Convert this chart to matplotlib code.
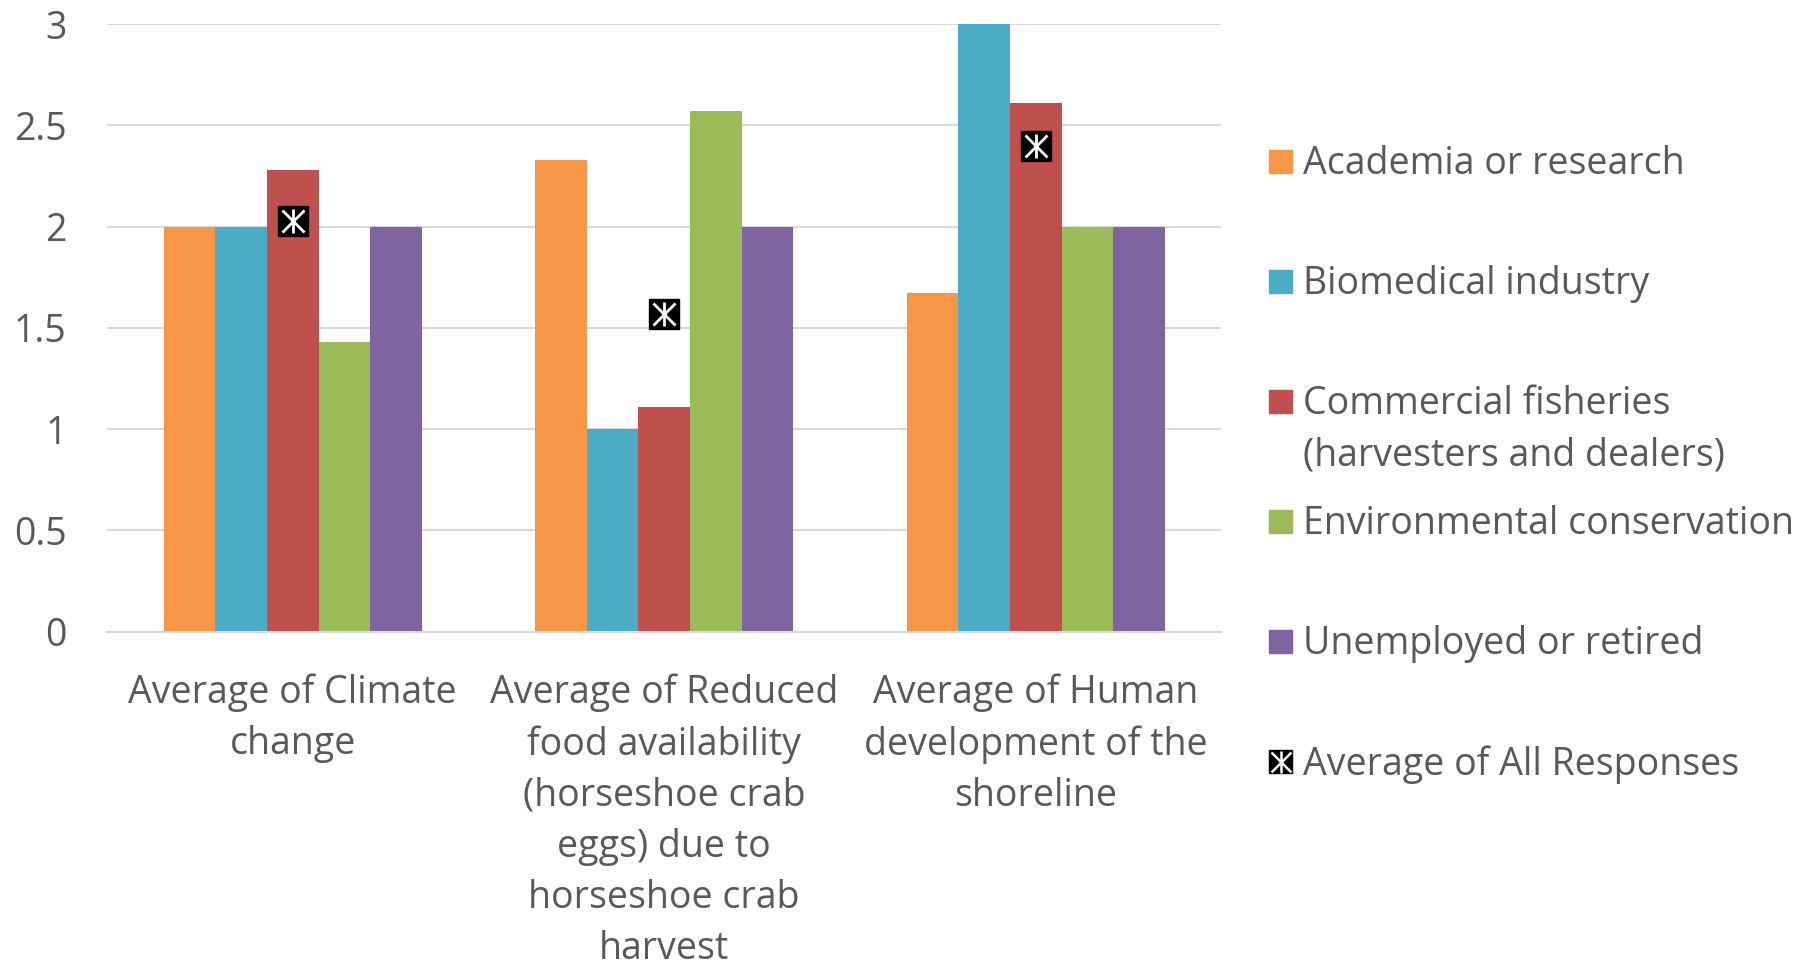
import numpy as np
import matplotlib.pyplot as plt
from matplotlib.patches import Rectangle

# data
categories = ["Average of Climate\nchange",
              "Average of Reduced\nfood availability\n(horseshoe crab\neggs) due to\nhorseshoe crab\nharvest",
              "Average of Human\ndevelopment of the\nshoreline"]
series_names = ["Academia or research", "Biomedical industry",
                "Commercial fisheries\n(harvesters and dealers)",
                "Environmental conservation", "Unemployed or retired"]
academia = [2.0, 2.33, 1.67]
biomedical = [2.0, 1.0, 3.0]
fisheries = [2.28, 1.11, 2.61]
environmental = [1.43, 2.57, 2.0]
unemployed = [2.0, 2.0, 2.0]
all_responses = [2.03, 1.57, 2.40]
colors = ["#F79646", "#4BACC6", "#C0504D", "#9BBB59", "#8064A2"]

series = [academia, biomedical, fisheries, environmental, unemployed]

plt.rcParams['font.family'] = ['Open Sans', 'DejaVu Sans']
txt_color = "#595959"
fs = 27

fig = plt.figure(figsize=(18.04, 9.63), dpi=100)
ax = fig.add_axes([0.0593, 0.344, 0.6178, 0.631])

x = np.arange(len(categories))
w = 0.139
for i, vals in enumerate(series):
    ax.bar(x + (i - 2) * w, vals, width=w, color=colors[i], zorder=2)

# average marker: black square with white asterisk
ax.plot(x, all_responses, linestyle='none', marker='s', ms=21, color='black', zorder=3)
ax.plot(x, all_responses, linestyle='none', marker='x', ms=16, mew=2, color='white', zorder=4)
ax.plot(x, all_responses, linestyle='none', marker='|', ms=17, mew=2, color='white', zorder=4)

ax.set_xlim(-0.5, 2.5)
ax.set_ylim(0, 3)
ax.set_yticks([0, 0.5, 1, 1.5, 2, 2.5, 3])
ax.set_yticklabels(["0", "0.5", "1", "1.5", "2", "2.5", "3"])
ax.set_xticks(x)
ax.set_xticklabels(categories, linespacing=1.45)
ax.yaxis.grid(True, color="#D9D9D9", lw=1.5, zorder=0)
ax.set_axisbelow(True)
for s in ["top", "right", "left"]:
    ax.spines[s].set_visible(False)
ax.spines["bottom"].set_color("#D9D9D9")
ax.spines["bottom"].set_linewidth(1.5)
ax.tick_params(axis='both', length=0, labelsize=fs, colors=txt_color)
ax.tick_params(axis='x', pad=30)
ax.tick_params(axis='y', pad=29)

# legend drawn by hand, evenly spaced like Excel
y0 = 1 - 162 / 963
step = 120 / 963
for i in range(6):
    yc = y0 - i * step
    if i < 5:
        fig.add_artist(Rectangle((1269 / 1804, yc - 11 / 963), 23 / 1804, 23 / 963,
                                 transform=fig.transFigure, color=colors[i]))
        label = series_names[i]
    else:
        fig.add_artist(Rectangle((1269 / 1804, yc - 11 / 963), 23 / 1804, 23 / 963,
                                 transform=fig.transFigure, color='black'))
        fig.lines.append(plt.Line2D([1280.5 / 1804], [yc + 0.5 / 963], transform=fig.transFigure,
                                    marker='x', ms=15, mew=1.8, color='white', linestyle='none'))
        fig.lines.append(plt.Line2D([1280.5 / 1804], [yc + 0.5 / 963], transform=fig.transFigure,
                                    marker='|', ms=16, mew=1.8, color='white', linestyle='none'))
        label = "Average of All Responses"
    fig.text(1303 / 1804, yc + 17 / 963, label, fontsize=fs, color=txt_color,
             va='top', ha='left', linespacing=1.45)

fig.savefig("out.png", dpi=100)
